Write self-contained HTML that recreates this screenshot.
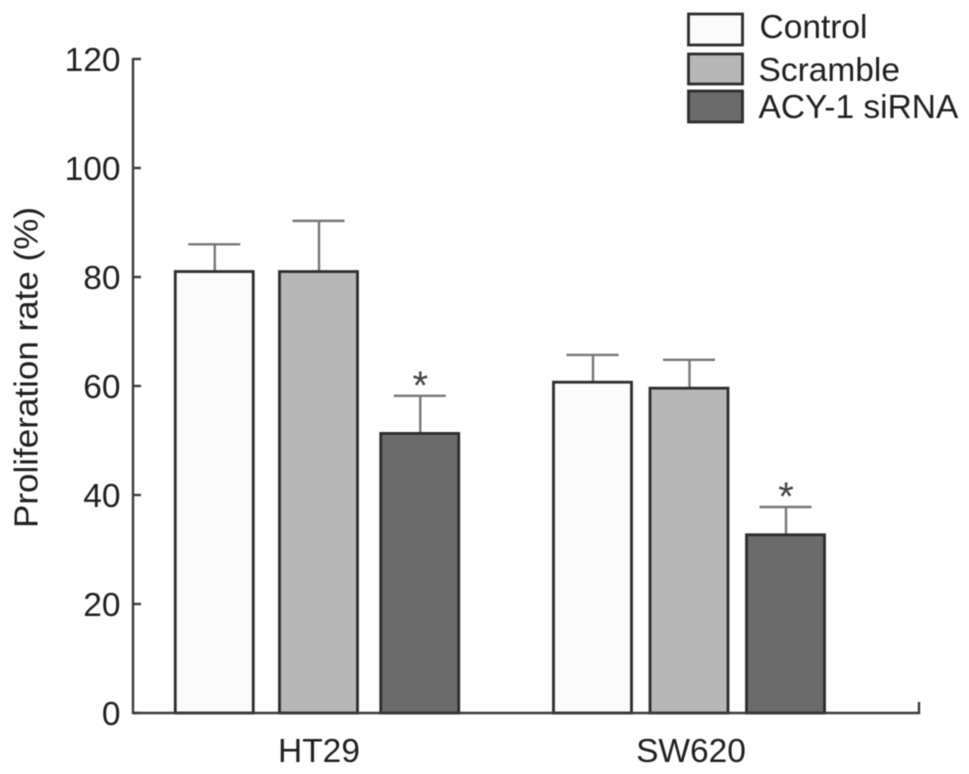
<!DOCTYPE html>
<html lang="en">
<head>
<meta charset="utf-8">
<title>Proliferation rate chart</title>
<style>
html,body{margin:0;padding:0;background:#fff;width:969px;height:774px;overflow:hidden}
svg{display:block;filter:blur(0.6px)}
text{font-family:"Liberation Sans",Arial,sans-serif;fill:#1f1f1f;font-size:33.5px}
</style>
</head>
<body>
<svg id="chart" width="969" height="774" viewBox="0 0 969 774" xmlns="http://www.w3.org/2000/svg">
  <text transform="translate(37.5,528) rotate(-90)" x="0" y="0" textLength="321" lengthAdjust="spacingAndGlyphs">Proliferation rate (%)</text>
  <g id="bars"></g>
  <g id="axes"></g>
  <g>
    <rect x="688.5" y="14" width="54" height="31" fill="#fbfbfb" stroke="#2c2c2c" stroke-width="2.8"/>
    <text x="759.5" y="38">Control</text>
    <rect x="688.5" y="54" width="54" height="30" fill="#b7b7b7" stroke="#2c2c2c" stroke-width="2.8"/>
    <text x="758.5" y="81">Scramble</text>
    <rect x="688.5" y="91" width="54" height="31" fill="#6b6b6b" stroke="#2c2c2c" stroke-width="2.8"/>
    <text x="758.5" y="118">ACY-1 siRNA</text>
  </g>
</svg>
<script>
const categories = ["HT29", "SW620"];
const controlValues = [81, 60.7];
const scrambleValues = [81, 59.6];
const sirnaValues = [51.3, 32.7];
const controlErrors = [86, 65.7];
const scrambleErrors = [90.3, 64.8];
const sirnaErrors = [58.2, 37.8];
const sirnaSignificant = [true, true];
const yTicks = [0, 20, 40, 60, 80, 100, 120];

const NS = "http://www.w3.org/2000/svg";
const barsLayer = document.getElementById("bars");
const axesLayer = document.getElementById("axes");
const seriesNames = ["control", "scramble", "sirna"];
const seriesFills = ["#fbfbfb", "#b7b7b7", "#6b6b6b"];
const seriesValues = [controlValues, scrambleValues, sirnaValues];
const seriesErrors = [controlErrors, scrambleErrors, sirnaErrors];

function yScale(v) { return 713 - v * (654 / 120); }
function groupCenter(g) { return 317 + g * 372; }
function barCenter(g, s) {
  const nudge = (g === 0 && s === 1) ? 1.5 : 0;
  return groupCenter(g) + (s - 1) * (g === 0 ? 102.75 : 96.5) + nudge;
}

function make(tag, parent) {
  const el = document.createElementNS(NS, tag);
  parent.appendChild(el);
  return el;
}

function line(x1, y1, x2, y2, stroke, width, parent) {
  const el = make("line", parent);
  el.setAttribute("x1", x1);
  el.setAttribute("y1", y1);
  el.setAttribute("x2", x2);
  el.setAttribute("y2", y2);
  el.setAttribute("stroke", stroke);
  el.setAttribute("stroke-width", width);
  return el;
}

categories.forEach(function (cat, g) {
  seriesNames.forEach(function (name, s) {
    const cx = barCenter(g, s);
    const top = yScale(seriesValues[s][g]);
    const errTop = yScale(seriesErrors[s][g]);

    const stem = line(cx + 0.5, errTop, cx + 0.5, top, "#777", 2.4, barsLayer);
    
    

    const cap = line(cx - 26, errTop, cx + 26, errTop, "#777", 2.4, barsLayer);
    
    

    const bar = make("rect", barsLayer);
    bar.setAttribute("x", cx - 39);
    bar.setAttribute("y", top);
    bar.setAttribute("width", 78);
    bar.setAttribute("height", yScale(0) - top);
    bar.setAttribute("fill", seriesFills[s]);
    bar.setAttribute("stroke", "#2c2c2c");
    bar.setAttribute("stroke-width", 2.8);
    
    

    if (s === 2 && sirnaSignificant[g]) {
      const star = make("text", barsLayer);
      star.setAttribute("x", cx + 0.5);
      star.setAttribute("y", errTop + 3);
      star.setAttribute("text-anchor", "middle");
      star.style.fontSize = "40px";
      star.style.fill = "#444";
      star.textContent = "*";
      
      
    }
  });

  const label = make("text", axesLayer);
  label.setAttribute("x", groupCenter(g) + 2);
  label.setAttribute("y", 762);
  label.setAttribute("text-anchor", "middle");
  label.textContent = cat;
  
  
});

const yAxis = line(133, yScale(120) - 1, 133, yScale(0) + 1, "#3a3a3a", 2.4, axesLayer);



const xAxis = line(132, yScale(0), 920, yScale(0), "#3a3a3a", 2.4, axesLayer);



const xEnd = line(919, yScale(0) + 1, 919, yScale(0) - 11, "#3a3a3a", 2.4, axesLayer);



yTicks.forEach(function (t) {
  const tick = line(133, yScale(t), 141, yScale(t), "#3a3a3a", 2.4, axesLayer);
  
  

  const label = make("text", axesLayer);
  label.setAttribute("x", 120.5);
  label.setAttribute("y", yScale(t) + 12);
  label.setAttribute("text-anchor", "end");
  label.textContent = t;
  
  
});
</script>
</body>
</html>
